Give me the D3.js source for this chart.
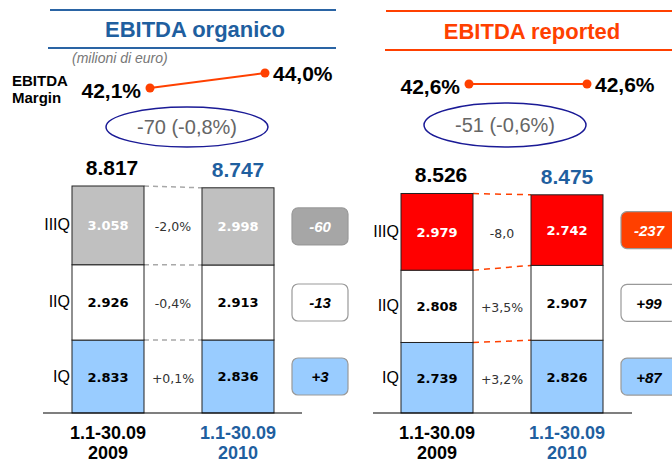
<!DOCTYPE html>
<html>
<head>
<meta charset="utf-8">
<script src="https://cdn.jsdelivr.net/npm/d3@7"></script>
<style>
  body { margin: 0; background: #fff; }
  svg { display: block; }
  text { font-family: "Liberation Sans", Arial, sans-serif; }
  .num { font-family: "DejaVu Sans", Verdana, sans-serif; }
</style>
</head>
<body>
<svg width="672" height="464"></svg>
<script>
// quarters, bottom to top
var quarters = ["IQ", "IIQ", "IIIQ"];
var periodLine1 = ["1.1-30.09", "1.1-30.09"];
var periodLine2 = ["2009", "2010"];

// EBITDA organico (milioni di euro)
var organico2009 = [2833, 2926, 3058];
var organico2010 = [2836, 2913, 2998];
var organicoChange = ["+0,1%", "-0,4%", "-2,0%"];
var organicoDelta = [3, -13, -60];
var organicoMargin = [42.1, 44.0];

// EBITDA reported
var reported2009 = [2739, 2808, 2979];
var reported2010 = [2826, 2907, 2742];
var reportedChange = ["+3,2%", "+3,5%", "-8,0"];
var reportedDelta = [87, 99, -237];
var reportedMargin = [42.6, 42.6];

var it = d3.formatLocale({decimal: ",", thousands: ".", grouping: [3], currency: ["", "€"], minus: "-"});
var fmtInt = it.format(",d"),
    fmtSigned = it.format("+d"),
    fmtPct1 = it.format(".1f");

var blue = "#1f5f9f", orange = "#ff4000";

var panels = [
  {
    title: "EBITDA organico", titleColor: blue, lineColor: "#2a64a4",
    lineTop: [50, 336, 10], lineBot: [48, 336, 48], titleX: 195, titleY: 37,
    a: organico2009, b: organico2010, change: organicoChange, delta: organicoDelta,
    margin: organicoMargin, dotX: [150, 265],
    bars: [72, 274], axis: [43, 302],
    fills: ["#99ccff", "#ffffff", "#c0c0c0"], deltaFills: ["#99ccff", "#ffffff", "#a6a6a6"],
    dash: "#a8a8a8", dashArray: "5,4",
    ell: {cx: 187, cy: 127, rx: 81, ry: 20}
  },
  {
    title: "EBITDA reported", titleColor: orange, lineColor: orange,
    lineTop: [386, 672, 11], lineBot: [385, 672, 50], titleX: 532, titleY: 39,
    a: reported2009, b: reported2010, change: reportedChange, delta: reportedDelta,
    margin: reportedMargin, dotX: [469, 587],
    bars: [401, 603], axis: [373, 632],
    fills: ["#99ccff", "#ffffff", "#ff0000"], deltaFills: ["#99ccff", "#ffffff", "#ff4000"],
    dash: orange, dashArray: "6,5",
    ell: {cx: 505, cy: 125, rx: 81, ry: 22}
  }
];

var svg = d3.select("svg");

var y = d3.scaleLinear().domain([0, 8817]).range([413, 186]);
var yMargin = d3.scaleLinear().domain([42.1, 44.0]).range([88, 73]);

// etichette comuni a sinistra
svg.append("text").attr("x", 72).attr("y", 63)
  .style("font-size", "14px").style("font-style", "italic").style("fill", "#777")
  .text("(milioni di euro)");
svg.append("text").attr("x", 12).attr("y", 86)
  .style("font-size", "15px").style("font-weight", "bold").text("EBITDA");
svg.append("text").attr("x", 12).attr("y", 103)
  .style("font-size", "15px").style("font-weight", "bold").text("Margin");

panels.forEach(function(p) {
  var g = svg.append("g");

  // header
  g.append("line").attr("x1", p.lineTop[0]).attr("x2", p.lineTop[1])
    .attr("y1", p.lineTop[2]).attr("y2", p.lineTop[2])
    .style("stroke", p.lineColor).style("stroke-width", 2);
  g.append("line").attr("x1", p.lineBot[0]).attr("x2", p.lineBot[1])
    .attr("y1", p.lineBot[2]).attr("y2", p.lineBot[2])
    .style("stroke", p.lineColor).style("stroke-width", 2);
  g.append("text").attr("x", p.titleX).attr("y", p.titleY)
    .attr("text-anchor", "middle")
    .style("font-size", "22px").style("font-weight", "bold").style("fill", p.titleColor)
    .text(p.title);

  // margin
  g.append("line")
    .attr("x1", p.dotX[0]).attr("y1", yMargin(p.margin[0]))
    .attr("x2", p.dotX[1]).attr("y2", yMargin(p.margin[1]))
    .style("stroke", orange).style("stroke-width", 2);
  g.selectAll(".dot").data(p.margin).enter().append("circle")
    .attr("cx", function(d, i) { return p.dotX[i]; })
    .attr("cy", function(d) { return yMargin(d); })
    .attr("r", 4.5).style("fill", orange);
  g.selectAll(".mlab").data(p.margin).enter().append("text")
    .attr("x", function(d, i) { return i == 0 ? p.dotX[i] - 9 : p.dotX[i] + 8; })
    .attr("y", function(d, i) { return yMargin(d) + (i == 0 ? 10 : 8); })
    .attr("text-anchor", function(d, i) { return i == 0 ? "end" : "start"; })
    .style("font-size", "21px").style("font-weight", "bold")
    .text(function(d) { return fmtPct1(d) + "%"; });

  // ellisse con la variazione totale
  var totA = d3.sum(p.a), totB = d3.sum(p.b);
  g.append("ellipse").attr("cx", p.ell.cx).attr("cy", p.ell.cy)
    .attr("rx", p.ell.rx).attr("ry", p.ell.ry)
    .style("fill", "none").style("stroke", "#1a1a96").style("stroke-width", 1.5);
  g.append("text").attr("x", p.ell.cx).attr("y", p.ell.cy + 7)
    .attr("text-anchor", "middle").style("font-size", "20px").style("fill", "#666")
    .text(fmtInt(totB - totA) + " (" + fmtPct1((totB - totA) / totA * 100) + "%)");

  // barre
  var x = d3.scaleBand().domain([0, 1]).range(p.bars).paddingInner(58 / 130).paddingOuter(0);
  var series = [p.a, p.b];
  var stacks = series.map(function(s) {
    var acc = 0;
    return s.map(function(v) { var seg = {y0: acc, y1: acc + v, v: v}; acc += v; return seg; });
  });

  // linee tratteggiate
  [0, 1, 2].forEach(function(q) {
    g.append("line")
      .attr("x1", x(0) + x.bandwidth()).attr("y1", y(stacks[0][q].y1))
      .attr("x2", x(1)).attr("y2", y(stacks[1][q].y1))
      .style("stroke", p.dash).style("stroke-width", 1.5).style("stroke-dasharray", p.dashArray);
  });

  stacks.forEach(function(st, bi) {
    var bg = g.append("g");
    bg.selectAll("rect").data(st).enter().append("rect")
      .attr("x", x(bi)).attr("width", x.bandwidth())
      .attr("y", function(d) { return y(d.y1); })
      .attr("height", function(d) { return y(d.y0) - y(d.y1); })
      .style("fill", function(d, i) { return p.fills[i]; })
      .style("stroke", "#222").style("stroke-width", 1);
    bg.selectAll("text").data(st).enter().append("text")
      .attr("class", "num")
      .attr("x", x(bi) + x.bandwidth() / 2)
      .attr("y", function(d) { return (y(d.y0) + y(d.y1)) / 2 + 5; })
      .attr("text-anchor", "middle")
      .style("font-size", "13px").style("font-weight", "bold")
      .style("fill", function(d, i) { return i == 2 ? "#fff" : "#000"; })
      .text(function(d) { return fmtInt(d.v); });

    var tot = d3.sum(series[bi]);
    g.append("text").attr("x", x(bi) + x.bandwidth() / 2 + (bi == 0 ? 4 : 0)).attr("y", y(tot) - 11)
      .attr("text-anchor", "middle")
      .style("font-size", "21px").style("font-weight", "bold")
      .style("fill", bi == 0 ? "#000" : blue)
      .text(fmtInt(tot));

    g.append("text").attr("x", x(bi) + x.bandwidth() / 2).attr("y", 439)
      .attr("text-anchor", "middle").style("font-size", "18px").style("font-weight", "bold")
      .style("fill", bi == 0 ? "#000" : blue).text(periodLine1[bi]);
    g.append("text").attr("x", x(bi) + x.bandwidth() / 2).attr("y", 459)
      .attr("text-anchor", "middle").style("font-size", "18px").style("font-weight", "bold")
      .style("fill", bi == 0 ? "#000" : blue).text(periodLine2[bi]);
  });

  // etichette trimestri
  g.selectAll(".q").data(stacks[0]).enter().append("text")
    .attr("x", x(0) - 2)
    .attr("y", function(d) { return (y(d.y0) + y(d.y1)) / 2 + 5; })
    .attr("text-anchor", "end").style("font-size", "16px")
    .text(function(d, i) { return quarters[i]; });

  // variazione % tra le barre
  g.selectAll(".chg").data(stacks[0]).enter().append("text")
    .attr("class", "num")
    .attr("x", (x(0) + x.bandwidth() + x(1)) / 2)
    .attr("y", function(d, i) { return (y(d.y0) + y(d.y1)) / 2 + 6; })
    .attr("text-anchor", "middle").style("font-size", "12.5px").style("fill", "#333")
    .text(function(d, i) { return p.change[i]; });

  // asse
  g.append("line").attr("x1", p.axis[0]).attr("x2", p.axis[1])
    .attr("y1", y(0)).attr("y2", y(0)).style("stroke", "#000").style("stroke-width", 1.2);

  // box delta
  var bx = x(1) + x.bandwidth() + 18;
  var db = g.selectAll(".delta").data(stacks[1]).enter().append("g");
  db.append("rect")
    .attr("x", bx).attr("width", 56)
    .attr("y", function(d) { return (y(d.y0) + y(d.y1)) / 2 - 18.5; })
    .attr("height", 37).attr("rx", 6)
    .style("fill", function(d, i) { return p.deltaFills[i]; })
    .style("stroke", "#999").style("stroke-width", 1.2);
  db.append("text")
    .attr("x", bx + 28)
    .attr("y", function(d) { return (y(d.y0) + y(d.y1)) / 2 + 6; })
    .attr("text-anchor", "middle")
    .style("font-size", "15px").style("font-weight", "bold").style("font-style", "italic")
    .style("fill", function(d, i) { return i == 2 ? "#fff" : "#000"; })
    .text(function(d, i) { return fmtSigned(p.delta[i]); });
});
</script>
</body>
</html>
